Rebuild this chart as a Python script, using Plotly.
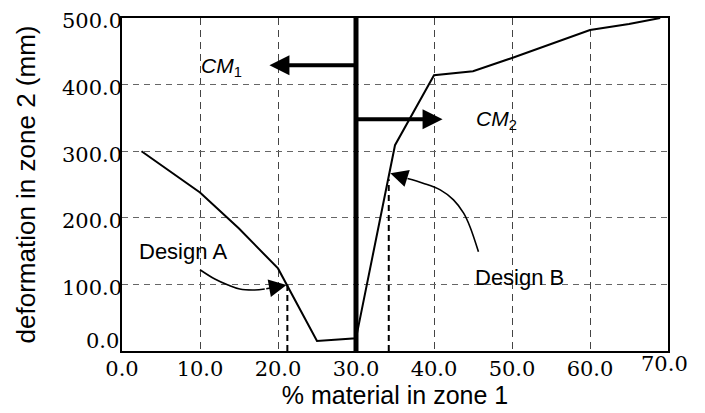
import plotly.graph_objects as go

# ---- data ----
curve_x = [2.5, 10, 15, 20, 25, 30, 35, 40, 45, 50, 60, 65, 69]
curve_y = [300, 238, 184, 124, 15, 19, 309, 414, 420, 440, 482, 491, 500]

cm_x = [30, 30]
cm_y = [0, 500]

designA_curve_x = [10.0, 11.9, 13.6, 15.1, 17.0, 18.3]
designA_curve_y = [122, 108, 99, 93, 91.6, 93]
designA_tip = (21.1, 99)
designA_drop_x = [21.2, 21.2]
designA_drop_y = [0, 99]

designB_curve_x = [45.7, 44.6, 43.8, 42.5, 40.8, 38.6, 36.6]
designB_curve_y = [149, 187, 207, 227, 242, 252, 259]
designB_tip = (34.4, 267)
designB_drop_x = [34.2, 34.2]
designB_drop_y = [0, 258]

cm1_arrow = dict(x_from=30, x_to=18.9, y=429)
cm2_arrow = dict(x_from=30, x_to=41.1, y=348)

x_tickvals = [0, 10, 20, 30, 40, 50, 60]
x_ticktext = ["0.0", "10.0", "20.0", "30.0", "40.0", "50.0", "60.0"]
x_last_tick = (70, "70.0")
y_tickvals = [100, 200, 300, 400, 500]
y_ticktext = ["100.0", "200.0", "300.0", "400.0", "500.0"]
y_first_tick = (0, "0.0")

SANS = "Liberation Sans"
SERIF = "DejaVu Serif"
TICK_SIZE = 21

fig = go.Figure()

fig.add_trace(go.Scatter(x=curve_x, y=curve_y, mode="lines",
                         line=dict(color="black", width=2), hoverinfo="skip"))
fig.add_trace(go.Scatter(x=cm_x, y=cm_y, mode="lines",
                         line=dict(color="black", width=5), hoverinfo="skip"))
fig.add_trace(go.Scatter(x=designA_drop_x, y=designA_drop_y, mode="lines",
                         line=dict(color="black", width=2, dash="6px,4px"), hoverinfo="skip"))
fig.add_trace(go.Scatter(x=designB_drop_x, y=designB_drop_y, mode="lines",
                         line=dict(color="black", width=2, dash="6px,4px"), hoverinfo="skip"))
fig.add_trace(go.Scatter(x=designA_curve_x, y=designA_curve_y, mode="lines",
                         line=dict(color="black", width=1.6, shape="spline"), hoverinfo="skip"))
fig.add_trace(go.Scatter(x=designB_curve_x, y=designB_curve_y, mode="lines",
                         line=dict(color="black", width=1.6, shape="spline"), hoverinfo="skip"))

# thick CM arrows
for a in (cm1_arrow, cm2_arrow):
    fig.add_annotation(x=a["x_to"], y=a["y"], ax=a["x_from"], ay=a["y"],
                       xref="x", yref="y", axref="x", ayref="y",
                       showarrow=True, arrowhead=2, arrowwidth=4, arrowsize=1,
                       arrowcolor="black", text="")

# design arrow heads
fig.add_annotation(x=designA_tip[0], y=designA_tip[1],
                   ax=designA_curve_x[-1], ay=designA_curve_y[-1],
                   xref="x", yref="y", axref="x", ayref="y",
                   showarrow=True, arrowhead=2, arrowwidth=1.6, arrowsize=2.2,
                   arrowcolor="black", text="")
fig.add_annotation(x=designB_tip[0], y=designB_tip[1],
                   ax=designB_curve_x[-1], ay=designB_curve_y[-1],
                   xref="x", yref="y", axref="x", ayref="y",
                   showarrow=True, arrowhead=2, arrowwidth=1.6, arrowsize=2.2,
                   arrowcolor="black", text="")

# texts
fig.add_annotation(x=12.7, y=427, text="<i>CM</i><sub>1</sub>", showarrow=False,
                   font=dict(family=SANS, size=21, color="black"))
fig.add_annotation(x=48.0, y=347, text="<i>CM</i><sub>2</sub>", showarrow=False,
                   font=dict(family=SANS, size=21, color="black"))
fig.add_annotation(x=7.8, y=149, text="Design A", showarrow=False,
                   font=dict(family=SANS, size=22, color="black"))
fig.add_annotation(x=51.0, y=111, text="Design B", showarrow=False,
                   font=dict(family=SANS, size=22, color="black"))

# offset tick labels at the corners (as in the reference)
fig.add_annotation(x=x_last_tick[0] - 0.5, y=0, xref="x", yref="paper",
                   yanchor="middle", yshift=-13, text=x_last_tick[1], showarrow=False,
                   font=dict(family=SERIF, size=TICK_SIZE, color="black"))
fig.add_annotation(x=0, y=y_first_tick[0], xref="paper", yref="y",
                   xanchor="right", yanchor="middle", xshift=-1, yshift=10,
                   text=y_first_tick[1], showarrow=False,
                   font=dict(family=SERIF, size=TICK_SIZE, color="black"))

fig.update_layout(
    width=705, height=413,
    margin=dict(l=122, r=37, t=18, b=62, autoexpand=False),
    paper_bgcolor="white", plot_bgcolor="white",
    showlegend=False,
    font=dict(family=SANS, color="black"),
    xaxis=dict(range=[0, 70], tickvals=x_tickvals, ticktext=x_ticktext,
               showline=True, mirror=True, linecolor="black", linewidth=1.5,
               showgrid=True, gridcolor="#444", gridwidth=1, griddash="7px,5px",
               zeroline=False, ticks="", automargin=False, ticklabelstandoff=-2,
               tickfont=dict(family=SERIF, size=TICK_SIZE, color="black"),
               title=dict(text="% material in zone 1", standoff=0,
                          font=dict(family=SANS, size=25, color="black"))),
    yaxis=dict(range=[0, 500], tickvals=y_tickvals, ticktext=y_ticktext,
               showline=True, mirror=True, linecolor="black", linewidth=1.5,
               showgrid=True, gridcolor="#666", gridwidth=1, griddash="6px,5px",
               zeroline=False, ticks="", automargin=False, ticklabelstandoff=-6,
               ticklabelshift=3,
               tickfont=dict(family=SERIF, size=TICK_SIZE, color="black"),
               title=dict(text="deformation in zone 2 (mm)", standoff=19,
                          font=dict(family=SANS, size=26, color="black"))),
)

fig.write_html("out.html")
